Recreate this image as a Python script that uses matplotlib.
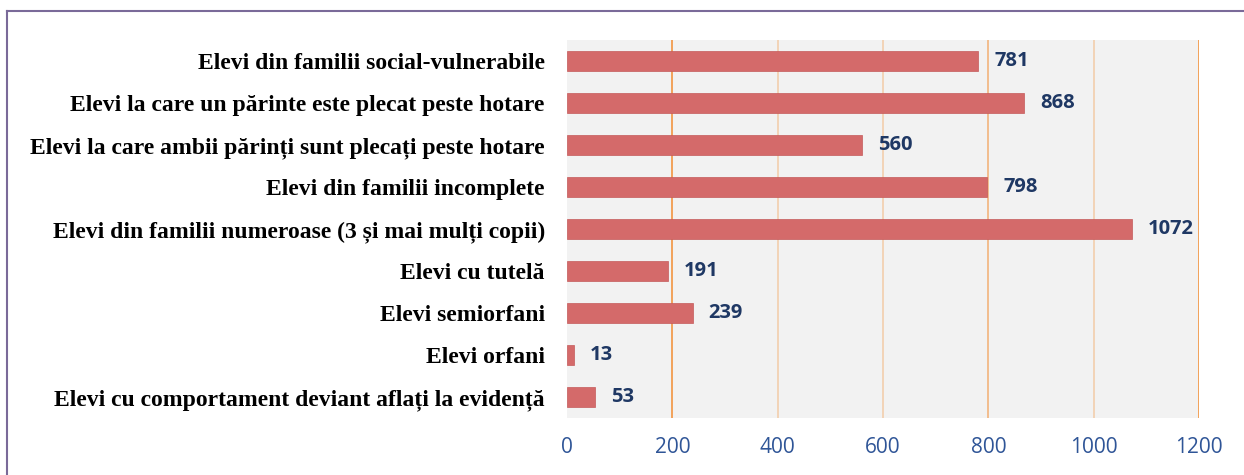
import matplotlib.pyplot as plt
from matplotlib.lines import Line2D

categories = [
    'Elevi din familii social-vulnerabile',
    'Elevi la care un părinte este plecat peste hotare',
    'Elevi la care ambii părinți sunt plecați peste hotare',
    'Elevi din familii incomplete',
    'Elevi din familii numeroase (3 și mai mulți copii)',
    'Elevi cu tutelă',
    'Elevi semiorfani',
    'Elevi orfani',
    'Elevi cu comportament deviant aflați la evidență',
]
values = [781, 868, 560, 798, 1072, 191, 239, 13, 53]
xticks = [0, 200, 400, 600, 800, 1000, 1200]

fig = plt.figure(figsize=(12.44, 4.75), dpi=100)
ax = fig.add_axes([0.4558, 0.12, 0.508, 0.796])
ax.set_facecolor('#F2F2F2')

pos = list(range(len(categories)))
ax.barh(pos, values, height=0.48, color='#D46A6A', edgecolor='#C55A5A', linewidth=0.5, zorder=3)
ax.set_ylim(len(categories) - 0.5, -0.5)
ax.set_xlim(0, 1200)

# gridlines: some strong, some faint, as in the original
grid_alpha = [0.9, 0.35, 0.35, 0.6, 0.35, 0.9]
for x, a in zip(xticks[1:], grid_alpha):
    ax.axvline(x, color='#F39A4A', lw=1.4, alpha=a, zorder=1)

ax.set_xticks(xticks)
ax.set_xticklabels([str(t) for t in xticks], fontsize=15, color='#2F5597', family='Open Sans')
ax.tick_params(axis='x', length=0, pad=14)
ax.set_yticks(pos)
ax.set_yticklabels(categories, fontsize=17, fontweight='bold', family='Liberation Serif', color='black')
ax.tick_params(axis='y', length=0, pad=16)
for s in ax.spines.values():
    s.set_visible(False)

for p, v in zip(pos, values):
    ax.text(v + 30, p, str(v), va='center', ha='left', fontsize=14.5, fontweight='bold',
            color='#1F3864', family='Open Sans', zorder=4)

# outer frame (top and left edges visible)
fig.add_artist(Line2D([7 / 1244, 1], [1 - 11 / 475, 1 - 11 / 475], color='#7A6A99', lw=1.5))
fig.add_artist(Line2D([7 / 1244, 7 / 1244], [0, 1 - 11 / 475], color='#7A6A99', lw=1.5))

fig.savefig('out.png', dpi=100)
